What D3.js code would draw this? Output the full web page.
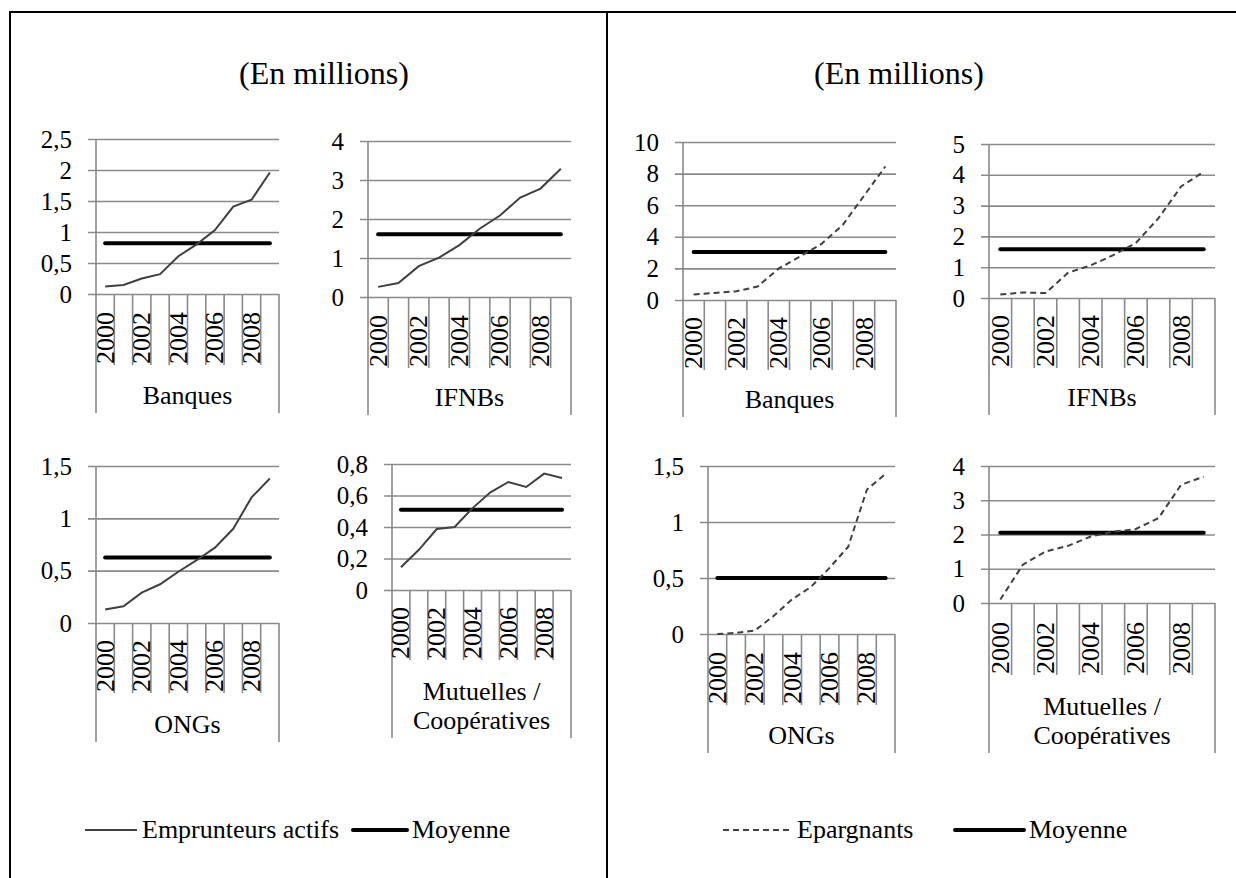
<!DOCTYPE html>
<html>
<head>
<meta charset="utf-8">
<script src="https://cdn.jsdelivr.net/npm/d3@7"></script>
<style>
  html, body { margin: 0; padding: 0; background: #fff; }
  svg { display: block; }
  text { font-family: "Liberation Serif", "Times New Roman", serif; fill: #000; }
</style>
</head>
<body>
<svg id="chart" width="1236" height="878"></svg>
<script>
// ---------- DATA ----------
const years = ["2000","2001","2002","2003","2004","2005","2006","2007","2008","2009"];
const yearTickLabels = ["2000","2002","2004","2006","2008"];
const categories = ["Banques", "IFNBs", "ONGs", "Mutuelles / Coopératives"];

// Emprunteurs actifs (millions)
const emprunteursBanques   = [0.12, 0.145, 0.25, 0.32, 0.61, 0.80, 1.03, 1.41, 1.52, 1.96];
const emprunteursIFNBs     = [0.26, 0.36, 0.79, 1.01, 1.33, 1.75, 2.09, 2.55, 2.78, 3.29];
const emprunteursONGs      = [0.13, 0.16, 0.29, 0.37, 0.49, 0.60, 0.72, 0.90, 1.20, 1.38];
const emprunteursMutuelles = [0.144, 0.255, 0.387, 0.40, 0.52, 0.62, 0.686, 0.654, 0.739, 0.711];
const moyenneEmprunteurs   = [0.82, 1.61, 0.625, 0.51];

// Epargnants (millions)
const epargnantsBanques    = [0.35, 0.45, 0.55, 0.85, 2.0, 2.75, 3.55, 4.75, 6.6, 8.45];
const epargnantsIFNBs      = [0.11, 0.18, 0.16, 0.82, 1.06, 1.39, 1.79, 2.59, 3.62, 4.10];
const epargnantsONGs       = [0.0, 0.01, 0.03, 0.16, 0.31, 0.42, 0.59, 0.78, 1.29, 1.43];
const epargnantsMutuelles  = [0.1, 1.12, 1.5, 1.67, 1.94, 2.08, 2.16, 2.48, 3.45, 3.69];
const moyenneEpargnants    = [3.04, 1.58, 0.50, 2.05];

// Axis tick values
const ticksEmprunteurs = [
  [0, 0.5, 1, 1.5, 2, 2.5],
  [0, 1, 2, 3, 4],
  [0, 0.5, 1, 1.5],
  [0, 0.2, 0.4, 0.6, 0.8]
];
const ticksEpargnants = [
  [0, 2, 4, 6, 8, 10],
  [0, 1, 2, 3, 4, 5],
  [0, 0.5, 1, 1.5],
  [0, 1, 2, 3, 4]
];

const titleText = "(En millions)";
const legendEmprunteurs = ["Emprunteurs actifs", "Moyenne"];
const legendEpargnants = ["Epargnants", "Moyenne"];

// ---------- LAYOUT ----------
const svg = d3.select("#chart");
const GRID = "#8a8a8a";
const LINE = "#404040";
const fmt = v => String(v).replace(".", ",");

const leftPanels = [
  {x0: 96,  x1: 279, yTop: 139, y0: 294, tickB: 365, outB: 413},
  {x0: 368, x1: 571, yTop: 141, y0: 297, tickB: 368, outB: 415},
  {x0: 96,  x1: 279, yTop: 466, y0: 623, tickB: 693, outB: 742},
  {x0: 392, x1: 571, yTop: 464, y0: 590, tickB: 660, outB: 738}
];
const rightPanels = [
  {x0: 683, x1: 896,  yTop: 142, y0: 300, tickB: 370, outB: 417},
  {x0: 989, x1: 1215, yTop: 144, y0: 298, tickB: 368, outB: 415},
  {x0: 708, x1: 895,  yTop: 466, y0: 634, tickB: 705, outB: 753},
  {x0: 989, x1: 1215, yTop: 466, y0: 603, tickB: 675, outB: 753}
];

// frame
svg.append("line").attr("x1", 10).attr("y1", 12).attr("x2", 1240).attr("y2", 12)
  .attr("stroke", "#000").attr("stroke-width", 2);
svg.append("line").attr("x1", 10).attr("y1", 11).attr("x2", 10).attr("y2", 880)
  .attr("stroke", "#000").attr("stroke-width", 2);
svg.append("line").attr("x1", 607).attr("y1", 11).attr("x2", 607).attr("y2", 880)
  .attr("stroke", "#000").attr("stroke-width", 2);

function drawPanel(p, values, mean, ticks, category, dashed) {
  const g = svg.append("g");
  const x = d3.scaleBand().domain(years).range([p.x0, p.x1]).padding(0);
  const y = d3.scaleLinear().domain([0, d3.max(ticks)]).range([p.y0, p.yTop]);
  const cx = d => x(d) + x.bandwidth() / 2;

  const ax = d3.axisLeft(y).tickValues(ticks).tickFormat(fmt)
    .tickSizeInner(-(p.x1 - p.x0 + 8)).tickSizeOuter(0).tickPadding(16);
  const ag = g.append("g").attr("transform", `translate(${p.x0 - 8},0)`).call(ax);
  ag.select(".domain").remove();
  ag.selectAll(".tick line").attr("stroke", GRID).attr("stroke-width", 1.6);
  ag.selectAll(".tick text").attr("font-size", 25).attr("fill", "#000");

  g.append("line").attr("x1", p.x0).attr("x2", p.x0).attr("y1", p.yTop).attr("y2", p.y0)
    .attr("stroke", GRID).attr("stroke-width", 1.6);

  const bounds = years.map(d => x(d)).concat([x(years[years.length - 1]) + x.bandwidth()]);
  g.selectAll("line.b").data(bounds).join("line")
    .attr("x1", d => d).attr("x2", d => d)
    .attr("y1", p.y0)
    .attr("y2", (d, i) => (i === 0 || i === bounds.length - 1) ? p.outB : p.tickB)
    .attr("stroke", GRID).attr("stroke-width", 1.6);

  g.selectAll("text.yr").data(yearTickLabels).join("text")
    .attr("transform", d => `translate(${cx(d) + 8.5},${p.tickB - 1}) rotate(-90)`)
    .attr("text-anchor", "start")
    .attr("font-size", 26)
    .text(d => d);

  const parts = category.includes("/")
    ? [category.split("/")[0].trim() + " /", category.split("/")[1].trim()]
    : [category];
  const LH = 29;
  const t = g.append("text")
    .attr("x", (p.x0 + p.x1) / 2)
    .attr("y", p.outB - 9 - (parts.length - 1) * LH)
    .attr("text-anchor", "middle")
    .attr("font-size", 26);
  parts.forEach((s, i) => {
    t.append("tspan").attr("x", (p.x0 + p.x1) / 2).attr("dy", i === 0 ? 0 : LH).text(s);
  });

  g.append("path")
    .attr("d", d3.line().x(d => cx(d)).y(() => y(mean))(years))
    .attr("fill", "none").attr("stroke", "#000").attr("stroke-width", 4)
    .attr("stroke-linecap", "round");

  g.append("path")
    .datum(values)
    .attr("d", d3.line().x((d, i) => cx(years[i])).y(d => y(d)))
    .attr("fill", "none").attr("stroke", LINE).attr("stroke-width", 2)
    .attr("stroke-dasharray", dashed ? "6,4" : null);
}

const empSeries = [emprunteursBanques, emprunteursIFNBs, emprunteursONGs, emprunteursMutuelles];
const epaSeries = [epargnantsBanques, epargnantsIFNBs, epargnantsONGs, epargnantsMutuelles];
leftPanels.forEach((p, i) => drawPanel(p, empSeries[i], moyenneEmprunteurs[i], ticksEmprunteurs[i], categories[i], false));
rightPanels.forEach((p, i) => drawPanel(p, epaSeries[i], moyenneEpargnants[i], ticksEpargnants[i], categories[i], true));

svg.append("text").attr("x", 324).attr("y", 84).attr("text-anchor", "middle")
  .attr("font-size", 32).text(titleText);
svg.append("text").attr("x", 899).attr("y", 84).attr("text-anchor", "middle")
  .attr("font-size", 32).text(titleText);

const LY = 830;
function legendItem(x1, x2, label, style) {
  svg.append("line").attr("x1", x1).attr("x2", x2).attr("y1", LY).attr("y2", LY)
    .attr("stroke", style.color).attr("stroke-width", style.width)
    .attr("stroke-dasharray", style.dash || null)
    .attr("stroke-linecap", style.cap || "butt");
  svg.append("text").attr("x", x2 + 5).attr("y", LY + 8).attr("font-size", 26).text(label);
}
legendItem(85, 137, legendEmprunteurs[0], {color: LINE, width: 2});
legendItem(353, 407, legendEmprunteurs[1], {color: "#000", width: 4, cap: "round"});
legendItem(723, 792, legendEpargnants[0], {color: LINE, width: 2, dash: "6,4"});
legendItem(955, 1024, legendEpargnants[1], {color: "#000", width: 4, cap: "round"});
</script>
</body>
</html>
